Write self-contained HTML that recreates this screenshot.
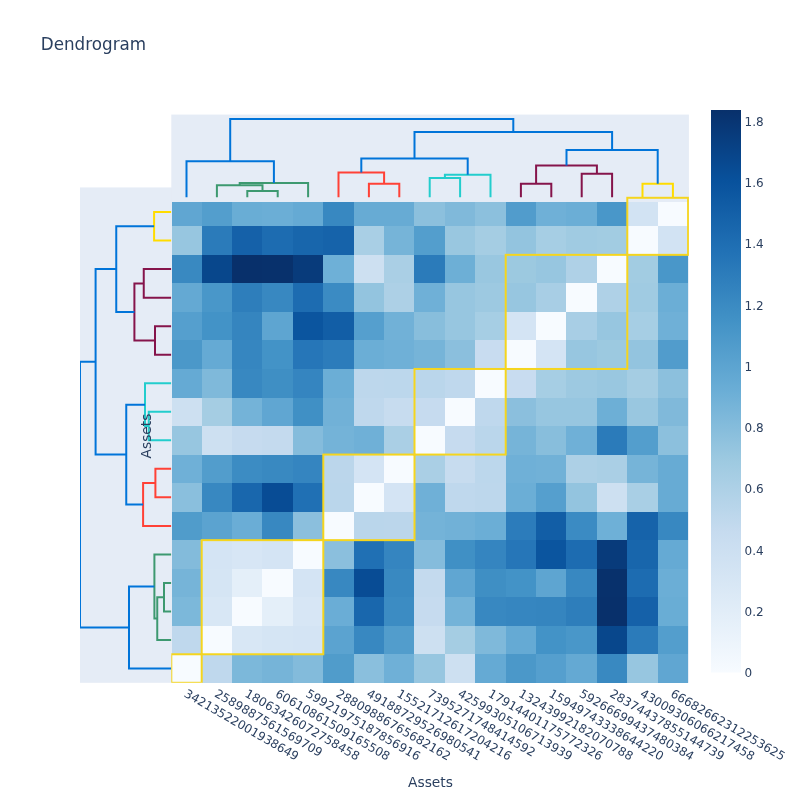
<!DOCTYPE html>
<html><head><meta charset="utf-8"><title>Dendrogram</title>
<style>html,body{margin:0;padding:0;background:#fff;}svg{display:block;}text{font-family:"DejaVu Sans","Liberation Sans",sans-serif;fill:#2a3f5f;}</style></head><body>
<svg width="800" height="800" viewBox="0 0 800 800">
<rect width="800" height="800" fill="#fff"/>
<rect x="80.00" y="187.42" width="608.90" height="495.38" fill="#E5ECF6"/>
<rect x="171.30" y="114.57" width="517.60" height="87.42" fill="#E5ECF6"/>
<g shape-rendering="crispEdges">
<rect x="172" y="202" width="30" height="24" fill="rgb(96,166,210)"/>
<rect x="202" y="202" width="30" height="24" fill="rgb(83,158,205)"/>
<rect x="232" y="202" width="30" height="24" fill="rgb(105,173,213)"/>
<rect x="262" y="202" width="31" height="24" fill="rgb(107,174,214)"/>
<rect x="293" y="202" width="30" height="24" fill="rgb(101,170,212)"/>
<rect x="323" y="202" width="31" height="24" fill="rgb(56,136,193)"/>
<rect x="354" y="202" width="30" height="24" fill="rgb(103,171,212)"/>
<rect x="384" y="202" width="30" height="24" fill="rgb(103,171,212)"/>
<rect x="414" y="202" width="31" height="24" fill="rgb(140,192,221)"/>
<rect x="445" y="202" width="30" height="24" fill="rgb(128,185,218)"/>
<rect x="475" y="202" width="31" height="24" fill="rgb(140,192,221)"/>
<rect x="506" y="202" width="30" height="24" fill="rgb(81,156,204)"/>
<rect x="536" y="202" width="30" height="24" fill="rgb(111,176,215)"/>
<rect x="566" y="202" width="31" height="24" fill="rgb(107,174,214)"/>
<rect x="597" y="202" width="30" height="24" fill="rgb(73,151,201)"/>
<rect x="627" y="202" width="31" height="24" fill="rgb(210,227,243)"/>
<rect x="658" y="202" width="30" height="24" fill="rgb(247,251,255)"/>
<rect x="172" y="226" width="30" height="29" fill="rgb(151,198,224)"/>
<rect x="202" y="226" width="30" height="29" fill="rgb(43,123,186)"/>
<rect x="232" y="226" width="30" height="29" fill="rgb(21,97,169)"/>
<rect x="262" y="226" width="31" height="29" fill="rgb(29,108,177)"/>
<rect x="293" y="226" width="30" height="29" fill="rgb(24,102,172)"/>
<rect x="323" y="226" width="31" height="29" fill="rgb(22,99,170)"/>
<rect x="354" y="226" width="30" height="29" fill="rgb(169,207,229)"/>
<rect x="384" y="226" width="30" height="29" fill="rgb(118,180,216)"/>
<rect x="414" y="226" width="31" height="29" fill="rgb(83,158,205)"/>
<rect x="445" y="226" width="30" height="29" fill="rgb(153,199,224)"/>
<rect x="475" y="226" width="31" height="29" fill="rgb(165,205,227)"/>
<rect x="506" y="226" width="30" height="29" fill="rgb(147,196,223)"/>
<rect x="536" y="226" width="30" height="29" fill="rgb(166,206,228)"/>
<rect x="566" y="226" width="31" height="29" fill="rgb(160,203,226)"/>
<rect x="597" y="226" width="30" height="29" fill="rgb(162,204,226)"/>
<rect x="627" y="226" width="31" height="29" fill="rgb(247,251,255)"/>
<rect x="658" y="226" width="30" height="29" fill="rgb(210,227,243)"/>
<rect x="172" y="255" width="30" height="28" fill="rgb(57,137,193)"/>
<rect x="202" y="255" width="30" height="28" fill="rgb(8,71,140)"/>
<rect x="232" y="255" width="30" height="28" fill="rgb(8,48,107)"/>
<rect x="262" y="255" width="31" height="28" fill="rgb(8,49,108)"/>
<rect x="293" y="255" width="30" height="28" fill="rgb(8,59,123)"/>
<rect x="323" y="255" width="31" height="28" fill="rgb(110,176,215)"/>
<rect x="354" y="255" width="30" height="28" fill="rgb(205,224,241)"/>
<rect x="384" y="255" width="30" height="28" fill="rgb(170,207,229)"/>
<rect x="414" y="255" width="31" height="28" fill="rgb(43,123,186)"/>
<rect x="445" y="255" width="30" height="28" fill="rgb(109,175,214)"/>
<rect x="475" y="255" width="31" height="28" fill="rgb(153,199,224)"/>
<rect x="506" y="255" width="30" height="28" fill="rgb(156,201,224)"/>
<rect x="536" y="255" width="30" height="28" fill="rgb(151,198,224)"/>
<rect x="566" y="255" width="31" height="28" fill="rgb(175,209,231)"/>
<rect x="597" y="255" width="30" height="28" fill="rgb(247,251,255)"/>
<rect x="627" y="255" width="31" height="28" fill="rgb(162,204,226)"/>
<rect x="658" y="255" width="30" height="28" fill="rgb(73,151,201)"/>
<rect x="172" y="283" width="30" height="29" fill="rgb(100,169,211)"/>
<rect x="202" y="283" width="30" height="29" fill="rgb(73,151,201)"/>
<rect x="232" y="283" width="30" height="29" fill="rgb(46,126,187)"/>
<rect x="262" y="283" width="31" height="29" fill="rgb(56,136,193)"/>
<rect x="293" y="283" width="30" height="29" fill="rgb(29,108,177)"/>
<rect x="323" y="283" width="31" height="29" fill="rgb(59,139,195)"/>
<rect x="354" y="283" width="30" height="29" fill="rgb(147,196,223)"/>
<rect x="384" y="283" width="30" height="29" fill="rgb(173,208,230)"/>
<rect x="414" y="283" width="31" height="29" fill="rgb(111,176,215)"/>
<rect x="445" y="283" width="30" height="29" fill="rgb(151,198,224)"/>
<rect x="475" y="283" width="31" height="29" fill="rgb(157,201,225)"/>
<rect x="506" y="283" width="30" height="29" fill="rgb(151,198,224)"/>
<rect x="536" y="283" width="30" height="29" fill="rgb(168,206,229)"/>
<rect x="566" y="283" width="31" height="29" fill="rgb(247,251,255)"/>
<rect x="597" y="283" width="30" height="29" fill="rgb(175,209,231)"/>
<rect x="627" y="283" width="31" height="29" fill="rgb(160,203,226)"/>
<rect x="658" y="283" width="30" height="29" fill="rgb(107,174,214)"/>
<rect x="172" y="312" width="30" height="28" fill="rgb(85,159,206)"/>
<rect x="202" y="312" width="30" height="28" fill="rgb(67,147,199)"/>
<rect x="232" y="312" width="30" height="28" fill="rgb(53,133,191)"/>
<rect x="262" y="312" width="31" height="28" fill="rgb(94,165,209)"/>
<rect x="293" y="312" width="30" height="28" fill="rgb(11,85,159)"/>
<rect x="323" y="312" width="31" height="28" fill="rgb(18,94,166)"/>
<rect x="354" y="312" width="30" height="28" fill="rgb(85,159,206)"/>
<rect x="384" y="312" width="30" height="28" fill="rgb(113,177,215)"/>
<rect x="414" y="312" width="31" height="28" fill="rgb(136,190,220)"/>
<rect x="445" y="312" width="30" height="28" fill="rgb(151,198,224)"/>
<rect x="475" y="312" width="31" height="28" fill="rgb(166,206,228)"/>
<rect x="506" y="312" width="30" height="28" fill="rgb(212,228,244)"/>
<rect x="536" y="312" width="30" height="28" fill="rgb(247,251,255)"/>
<rect x="566" y="312" width="31" height="28" fill="rgb(168,206,229)"/>
<rect x="597" y="312" width="30" height="28" fill="rgb(151,198,224)"/>
<rect x="627" y="312" width="31" height="28" fill="rgb(166,206,228)"/>
<rect x="658" y="312" width="30" height="28" fill="rgb(111,176,215)"/>
<rect x="172" y="340" width="30" height="29" fill="rgb(75,152,201)"/>
<rect x="202" y="340" width="30" height="29" fill="rgb(101,170,212)"/>
<rect x="232" y="340" width="30" height="29" fill="rgb(54,134,192)"/>
<rect x="262" y="340" width="31" height="29" fill="rgb(67,147,199)"/>
<rect x="293" y="340" width="30" height="29" fill="rgb(38,118,184)"/>
<rect x="323" y="340" width="31" height="29" fill="rgb(44,124,187)"/>
<rect x="354" y="340" width="30" height="29" fill="rgb(107,174,214)"/>
<rect x="384" y="340" width="30" height="29" fill="rgb(111,176,215)"/>
<rect x="414" y="340" width="31" height="29" fill="rgb(118,180,216)"/>
<rect x="445" y="340" width="30" height="29" fill="rgb(139,191,221)"/>
<rect x="475" y="340" width="31" height="29" fill="rgb(200,220,240)"/>
<rect x="506" y="340" width="30" height="29" fill="rgb(247,251,255)"/>
<rect x="536" y="340" width="30" height="29" fill="rgb(212,228,244)"/>
<rect x="566" y="340" width="31" height="29" fill="rgb(151,198,224)"/>
<rect x="597" y="340" width="30" height="29" fill="rgb(156,201,224)"/>
<rect x="627" y="340" width="31" height="29" fill="rgb(147,196,223)"/>
<rect x="658" y="340" width="30" height="29" fill="rgb(81,156,204)"/>
<rect x="172" y="369" width="30" height="29" fill="rgb(101,170,212)"/>
<rect x="202" y="369" width="30" height="29" fill="rgb(127,185,218)"/>
<rect x="232" y="369" width="30" height="29" fill="rgb(56,136,193)"/>
<rect x="262" y="369" width="31" height="29" fill="rgb(63,143,196)"/>
<rect x="293" y="369" width="30" height="29" fill="rgb(53,133,192)"/>
<rect x="323" y="369" width="31" height="29" fill="rgb(107,174,214)"/>
<rect x="354" y="369" width="30" height="29" fill="rgb(189,215,236)"/>
<rect x="384" y="369" width="30" height="29" fill="rgb(188,215,236)"/>
<rect x="414" y="369" width="31" height="29" fill="rgb(186,214,235)"/>
<rect x="445" y="369" width="30" height="29" fill="rgb(191,216,237)"/>
<rect x="475" y="369" width="31" height="29" fill="rgb(247,251,255)"/>
<rect x="506" y="369" width="30" height="29" fill="rgb(200,220,240)"/>
<rect x="536" y="369" width="30" height="29" fill="rgb(166,206,228)"/>
<rect x="566" y="369" width="31" height="29" fill="rgb(157,201,225)"/>
<rect x="597" y="369" width="30" height="29" fill="rgb(153,199,224)"/>
<rect x="627" y="369" width="31" height="29" fill="rgb(165,205,227)"/>
<rect x="658" y="369" width="30" height="29" fill="rgb(140,192,221)"/>
<rect x="172" y="398" width="30" height="28" fill="rgb(205,224,241)"/>
<rect x="202" y="398" width="30" height="28" fill="rgb(165,205,227)"/>
<rect x="232" y="398" width="30" height="28" fill="rgb(116,179,216)"/>
<rect x="262" y="398" width="31" height="28" fill="rgb(96,166,210)"/>
<rect x="293" y="398" width="30" height="28" fill="rgb(64,144,197)"/>
<rect x="323" y="398" width="31" height="28" fill="rgb(113,177,215)"/>
<rect x="354" y="398" width="30" height="28" fill="rgb(191,216,237)"/>
<rect x="384" y="398" width="30" height="28" fill="rgb(199,220,239)"/>
<rect x="414" y="398" width="31" height="28" fill="rgb(198,219,239)"/>
<rect x="445" y="398" width="30" height="28" fill="rgb(247,251,255)"/>
<rect x="475" y="398" width="31" height="28" fill="rgb(191,216,237)"/>
<rect x="506" y="398" width="30" height="28" fill="rgb(139,191,221)"/>
<rect x="536" y="398" width="30" height="28" fill="rgb(151,198,224)"/>
<rect x="566" y="398" width="31" height="28" fill="rgb(151,198,224)"/>
<rect x="597" y="398" width="30" height="28" fill="rgb(109,175,214)"/>
<rect x="627" y="398" width="31" height="28" fill="rgb(153,199,224)"/>
<rect x="658" y="398" width="30" height="28" fill="rgb(128,185,218)"/>
<rect x="172" y="426" width="30" height="29" fill="rgb(151,198,224)"/>
<rect x="202" y="426" width="30" height="29" fill="rgb(205,224,241)"/>
<rect x="232" y="426" width="30" height="29" fill="rgb(198,219,239)"/>
<rect x="262" y="426" width="31" height="29" fill="rgb(196,218,238)"/>
<rect x="293" y="426" width="30" height="29" fill="rgb(133,188,220)"/>
<rect x="323" y="426" width="31" height="29" fill="rgb(116,179,216)"/>
<rect x="354" y="426" width="30" height="29" fill="rgb(111,176,215)"/>
<rect x="384" y="426" width="30" height="29" fill="rgb(170,207,229)"/>
<rect x="414" y="426" width="31" height="29" fill="rgb(247,251,255)"/>
<rect x="445" y="426" width="30" height="29" fill="rgb(198,219,239)"/>
<rect x="475" y="426" width="31" height="29" fill="rgb(186,214,235)"/>
<rect x="506" y="426" width="30" height="29" fill="rgb(118,180,216)"/>
<rect x="536" y="426" width="30" height="29" fill="rgb(136,190,220)"/>
<rect x="566" y="426" width="31" height="29" fill="rgb(111,176,215)"/>
<rect x="597" y="426" width="30" height="29" fill="rgb(43,123,186)"/>
<rect x="627" y="426" width="31" height="29" fill="rgb(83,158,205)"/>
<rect x="658" y="426" width="30" height="29" fill="rgb(140,192,221)"/>
<rect x="172" y="455" width="30" height="28" fill="rgb(111,176,215)"/>
<rect x="202" y="455" width="30" height="28" fill="rgb(82,157,204)"/>
<rect x="232" y="455" width="30" height="28" fill="rgb(60,140,195)"/>
<rect x="262" y="455" width="31" height="28" fill="rgb(57,137,193)"/>
<rect x="293" y="455" width="30" height="28" fill="rgb(53,133,192)"/>
<rect x="323" y="455" width="31" height="28" fill="rgb(187,214,235)"/>
<rect x="354" y="455" width="30" height="28" fill="rgb(212,228,244)"/>
<rect x="384" y="455" width="30" height="28" fill="rgb(247,251,255)"/>
<rect x="414" y="455" width="31" height="28" fill="rgb(170,207,229)"/>
<rect x="445" y="455" width="30" height="28" fill="rgb(199,220,239)"/>
<rect x="475" y="455" width="31" height="28" fill="rgb(188,215,236)"/>
<rect x="506" y="455" width="30" height="28" fill="rgb(111,176,215)"/>
<rect x="536" y="455" width="30" height="28" fill="rgb(113,177,215)"/>
<rect x="566" y="455" width="31" height="28" fill="rgb(173,208,230)"/>
<rect x="597" y="455" width="30" height="28" fill="rgb(170,207,229)"/>
<rect x="627" y="455" width="31" height="28" fill="rgb(118,180,216)"/>
<rect x="658" y="455" width="30" height="28" fill="rgb(103,171,212)"/>
<rect x="172" y="483" width="30" height="29" fill="rgb(138,191,221)"/>
<rect x="202" y="483" width="30" height="29" fill="rgb(56,136,193)"/>
<rect x="232" y="483" width="30" height="29" fill="rgb(25,103,173)"/>
<rect x="262" y="483" width="31" height="29" fill="rgb(8,76,149)"/>
<rect x="293" y="483" width="30" height="29" fill="rgb(32,112,180)"/>
<rect x="323" y="483" width="31" height="29" fill="rgb(186,214,235)"/>
<rect x="354" y="483" width="30" height="29" fill="rgb(247,251,255)"/>
<rect x="384" y="483" width="30" height="29" fill="rgb(212,228,244)"/>
<rect x="414" y="483" width="31" height="29" fill="rgb(111,176,215)"/>
<rect x="445" y="483" width="30" height="29" fill="rgb(191,216,237)"/>
<rect x="475" y="483" width="31" height="29" fill="rgb(189,215,236)"/>
<rect x="506" y="483" width="30" height="29" fill="rgb(107,174,214)"/>
<rect x="536" y="483" width="30" height="29" fill="rgb(85,159,206)"/>
<rect x="566" y="483" width="31" height="29" fill="rgb(147,196,223)"/>
<rect x="597" y="483" width="30" height="29" fill="rgb(205,224,241)"/>
<rect x="627" y="483" width="31" height="29" fill="rgb(169,207,229)"/>
<rect x="658" y="483" width="30" height="29" fill="rgb(103,171,212)"/>
<rect x="172" y="512" width="30" height="28" fill="rgb(80,156,203)"/>
<rect x="202" y="512" width="30" height="28" fill="rgb(91,163,208)"/>
<rect x="232" y="512" width="30" height="28" fill="rgb(106,173,214)"/>
<rect x="262" y="512" width="31" height="28" fill="rgb(56,136,193)"/>
<rect x="293" y="512" width="30" height="28" fill="rgb(139,191,221)"/>
<rect x="323" y="512" width="31" height="28" fill="rgb(247,251,255)"/>
<rect x="354" y="512" width="30" height="28" fill="rgb(186,214,235)"/>
<rect x="384" y="512" width="30" height="28" fill="rgb(187,214,235)"/>
<rect x="414" y="512" width="31" height="28" fill="rgb(116,179,216)"/>
<rect x="445" y="512" width="30" height="28" fill="rgb(113,177,215)"/>
<rect x="475" y="512" width="31" height="28" fill="rgb(107,174,214)"/>
<rect x="506" y="512" width="30" height="28" fill="rgb(44,124,187)"/>
<rect x="536" y="512" width="30" height="28" fill="rgb(18,94,166)"/>
<rect x="566" y="512" width="31" height="28" fill="rgb(59,139,195)"/>
<rect x="597" y="512" width="30" height="28" fill="rgb(110,176,215)"/>
<rect x="627" y="512" width="31" height="28" fill="rgb(22,99,170)"/>
<rect x="658" y="512" width="30" height="28" fill="rgb(56,136,193)"/>
<rect x="172" y="540" width="30" height="29" fill="rgb(131,187,219)"/>
<rect x="202" y="540" width="30" height="29" fill="rgb(212,228,244)"/>
<rect x="232" y="540" width="30" height="29" fill="rgb(215,230,245)"/>
<rect x="262" y="540" width="31" height="29" fill="rgb(212,228,244)"/>
<rect x="293" y="540" width="30" height="29" fill="rgb(247,251,255)"/>
<rect x="323" y="540" width="31" height="29" fill="rgb(139,191,221)"/>
<rect x="354" y="540" width="30" height="29" fill="rgb(32,112,180)"/>
<rect x="384" y="540" width="30" height="29" fill="rgb(53,133,192)"/>
<rect x="414" y="540" width="31" height="29" fill="rgb(133,188,220)"/>
<rect x="445" y="540" width="30" height="29" fill="rgb(64,144,197)"/>
<rect x="475" y="540" width="31" height="29" fill="rgb(53,133,192)"/>
<rect x="506" y="540" width="30" height="29" fill="rgb(38,118,184)"/>
<rect x="536" y="540" width="30" height="29" fill="rgb(11,85,159)"/>
<rect x="566" y="540" width="31" height="29" fill="rgb(29,108,177)"/>
<rect x="597" y="540" width="30" height="29" fill="rgb(8,59,123)"/>
<rect x="627" y="540" width="31" height="29" fill="rgb(24,102,172)"/>
<rect x="658" y="540" width="30" height="29" fill="rgb(101,170,212)"/>
<rect x="172" y="569" width="30" height="28" fill="rgb(118,180,216)"/>
<rect x="202" y="569" width="30" height="28" fill="rgb(213,229,244)"/>
<rect x="232" y="569" width="30" height="28" fill="rgb(228,239,249)"/>
<rect x="262" y="569" width="31" height="28" fill="rgb(247,251,255)"/>
<rect x="293" y="569" width="30" height="28" fill="rgb(212,228,244)"/>
<rect x="323" y="569" width="31" height="28" fill="rgb(56,136,193)"/>
<rect x="354" y="569" width="30" height="28" fill="rgb(8,76,149)"/>
<rect x="384" y="569" width="30" height="28" fill="rgb(57,137,193)"/>
<rect x="414" y="569" width="31" height="28" fill="rgb(196,218,238)"/>
<rect x="445" y="569" width="30" height="28" fill="rgb(96,166,210)"/>
<rect x="475" y="569" width="31" height="28" fill="rgb(63,143,196)"/>
<rect x="506" y="569" width="30" height="28" fill="rgb(67,147,199)"/>
<rect x="536" y="569" width="30" height="28" fill="rgb(94,165,209)"/>
<rect x="566" y="569" width="31" height="28" fill="rgb(56,136,193)"/>
<rect x="597" y="569" width="30" height="28" fill="rgb(8,49,108)"/>
<rect x="627" y="569" width="31" height="28" fill="rgb(29,108,177)"/>
<rect x="658" y="569" width="30" height="28" fill="rgb(107,174,214)"/>
<rect x="172" y="597" width="30" height="29" fill="rgb(124,184,218)"/>
<rect x="202" y="597" width="30" height="29" fill="rgb(216,231,245)"/>
<rect x="232" y="597" width="30" height="29" fill="rgb(247,251,255)"/>
<rect x="262" y="597" width="31" height="29" fill="rgb(228,239,249)"/>
<rect x="293" y="597" width="30" height="29" fill="rgb(215,230,245)"/>
<rect x="323" y="597" width="31" height="29" fill="rgb(106,173,214)"/>
<rect x="354" y="597" width="30" height="29" fill="rgb(25,103,173)"/>
<rect x="384" y="597" width="30" height="29" fill="rgb(60,140,195)"/>
<rect x="414" y="597" width="31" height="29" fill="rgb(198,219,239)"/>
<rect x="445" y="597" width="30" height="29" fill="rgb(116,179,216)"/>
<rect x="475" y="597" width="31" height="29" fill="rgb(56,136,193)"/>
<rect x="506" y="597" width="30" height="29" fill="rgb(54,134,192)"/>
<rect x="536" y="597" width="30" height="29" fill="rgb(53,133,191)"/>
<rect x="566" y="597" width="31" height="29" fill="rgb(46,126,187)"/>
<rect x="597" y="597" width="30" height="29" fill="rgb(8,48,107)"/>
<rect x="627" y="597" width="31" height="29" fill="rgb(21,97,169)"/>
<rect x="658" y="597" width="30" height="29" fill="rgb(105,173,213)"/>
<rect x="172" y="626" width="30" height="28" fill="rgb(191,216,237)"/>
<rect x="202" y="626" width="30" height="28" fill="rgb(247,251,255)"/>
<rect x="232" y="626" width="30" height="28" fill="rgb(216,231,245)"/>
<rect x="262" y="626" width="31" height="28" fill="rgb(213,229,244)"/>
<rect x="293" y="626" width="30" height="28" fill="rgb(212,228,244)"/>
<rect x="323" y="626" width="31" height="28" fill="rgb(91,163,208)"/>
<rect x="354" y="626" width="30" height="28" fill="rgb(56,136,193)"/>
<rect x="384" y="626" width="30" height="28" fill="rgb(82,157,204)"/>
<rect x="414" y="626" width="31" height="28" fill="rgb(205,224,241)"/>
<rect x="445" y="626" width="30" height="28" fill="rgb(165,205,227)"/>
<rect x="475" y="626" width="31" height="28" fill="rgb(127,185,218)"/>
<rect x="506" y="626" width="30" height="28" fill="rgb(101,170,212)"/>
<rect x="536" y="626" width="30" height="28" fill="rgb(67,147,199)"/>
<rect x="566" y="626" width="31" height="28" fill="rgb(73,151,201)"/>
<rect x="597" y="626" width="30" height="28" fill="rgb(8,71,140)"/>
<rect x="627" y="626" width="31" height="28" fill="rgb(43,123,186)"/>
<rect x="658" y="626" width="30" height="28" fill="rgb(83,158,205)"/>
<rect x="172" y="654" width="30" height="29" fill="rgb(247,251,255)"/>
<rect x="202" y="654" width="30" height="29" fill="rgb(191,216,237)"/>
<rect x="232" y="654" width="30" height="29" fill="rgb(124,184,218)"/>
<rect x="262" y="654" width="31" height="29" fill="rgb(118,180,216)"/>
<rect x="293" y="654" width="30" height="29" fill="rgb(131,187,219)"/>
<rect x="323" y="654" width="31" height="29" fill="rgb(80,156,203)"/>
<rect x="354" y="654" width="30" height="29" fill="rgb(138,191,221)"/>
<rect x="384" y="654" width="30" height="29" fill="rgb(111,176,215)"/>
<rect x="414" y="654" width="31" height="29" fill="rgb(151,198,224)"/>
<rect x="445" y="654" width="30" height="29" fill="rgb(205,224,241)"/>
<rect x="475" y="654" width="31" height="29" fill="rgb(101,170,212)"/>
<rect x="506" y="654" width="30" height="29" fill="rgb(75,152,201)"/>
<rect x="536" y="654" width="30" height="29" fill="rgb(85,159,206)"/>
<rect x="566" y="654" width="31" height="29" fill="rgb(100,169,211)"/>
<rect x="597" y="654" width="30" height="29" fill="rgb(57,137,193)"/>
<rect x="627" y="654" width="31" height="29" fill="rgb(151,198,224)"/>
<rect x="658" y="654" width="30" height="29" fill="rgb(96,166,210)"/>
</g>
<g fill="none" stroke-width="2" stroke-linejoin="miter">
<path d="M247.30,197.30V191.00H277.70V197.30" stroke="rgb(61,153,112)"/>
<path d="M216.90,197.30V185.30H262.50V191.00" stroke="rgb(61,153,112)"/>
<path d="M239.70,185.30V183.10H308.10V197.30" stroke="rgb(61,153,112)"/>
<path d="M186.50,197.30V161.30H273.90V183.10" stroke="rgb(0,116,217)"/>
<path d="M368.90,197.30V183.80H399.30V197.30" stroke="rgb(255,65,54)"/>
<path d="M338.50,197.30V172.50H384.10V183.80" stroke="rgb(255,65,54)"/>
<path d="M429.70,197.30V178.10H460.10V197.30" stroke="rgb(35,205,205)"/>
<path d="M444.90,178.10V174.80H490.50V197.30" stroke="rgb(35,205,205)"/>
<path d="M361.30,172.50V158.60H467.70V174.80" stroke="rgb(0,116,217)"/>
<path d="M520.90,197.30V183.75H551.30V197.30" stroke="rgb(133,20,75)"/>
<path d="M581.70,197.30V173.75H612.10V197.30" stroke="rgb(133,20,75)"/>
<path d="M536.10,183.75V165.50H596.90V173.75" stroke="rgb(133,20,75)"/>
<path d="M642.50,197.30V183.75H672.90V197.30" stroke="rgb(255,220,0)"/>
<path d="M566.50,165.50V150.00H657.70V183.75" stroke="rgb(0,116,217)"/>
<path d="M414.50,158.60V132.00H612.10V150.00" stroke="rgb(0,116,217)"/>
<path d="M230.20,161.30V119.00H513.30V132.00" stroke="rgb(0,116,217)"/>
<clipPath id="sc"><rect x="80.00" y="187.42" width="91.30" height="495.38"/></clipPath>
<g clip-path="url(#sc)">
<path d="M171.30,611.47H164.00V582.94H171.30" stroke="rgb(61,153,112)"/>
<path d="M171.30,640.00H157.25V597.21H164.00" stroke="rgb(61,153,112)"/>
<path d="M157.25,618.61H154.40V554.41H171.30" stroke="rgb(61,153,112)"/>
<path d="M171.30,668.53H129.00V586.51H154.40" stroke="rgb(0,116,217)"/>
<path d="M171.30,497.35H155.40V468.82H171.30" stroke="rgb(255,65,54)"/>
<path d="M171.30,525.88H143.10V483.09H155.40" stroke="rgb(255,65,54)"/>
<path d="M171.30,440.29H148.75V411.76H171.30" stroke="rgb(35,205,205)"/>
<path d="M148.75,426.03H145.00V383.23H171.30" stroke="rgb(35,205,205)"/>
<path d="M143.10,504.49H126.25V404.63H145.00" stroke="rgb(0,116,217)"/>
<path d="M171.30,354.70H155.00V326.17H171.30" stroke="rgb(133,20,75)"/>
<path d="M171.30,297.64H143.75V269.11H171.30" stroke="rgb(133,20,75)"/>
<path d="M155.00,340.44H134.40V283.38H143.75" stroke="rgb(133,20,75)"/>
<path d="M171.30,240.58H154.10V212.05H171.30" stroke="rgb(255,220,0)"/>
<path d="M134.40,311.91H116.25V226.32H154.10" stroke="rgb(0,116,217)"/>
<path d="M126.25,454.56H95.60V269.11H116.25" stroke="rgb(0,116,217)"/>
<path d="M129.00,627.52H80.00V361.84H95.60" stroke="rgb(0,116,217)"/>
</g>
</g>
<clipPath id="hc"><rect x="171.30" y="187.42" width="517.60" height="495.38"/></clipPath>
<g fill="none" stroke="rgb(245,213,30)" stroke-width="2" clip-path="url(#hc)">
<rect x="171.30" y="654.27" width="30.40" height="28.53"/>
<rect x="201.70" y="540.15" width="121.60" height="114.12"/>
<rect x="323.30" y="454.56" width="91.20" height="85.59"/>
<rect x="414.50" y="368.97" width="91.20" height="85.59"/>
<rect x="505.70" y="254.85" width="121.60" height="114.12"/>
<rect x="627.30" y="197.79" width="60.80" height="57.06"/>
</g>
<defs><linearGradient id="cbg" x1="0" y1="1" x2="0" y2="0">
<stop offset="0.0%" stop-color="rgb(247,251,255)"/>
<stop offset="12.5%" stop-color="rgb(222,235,247)"/>
<stop offset="25.0%" stop-color="rgb(198,219,239)"/>
<stop offset="37.5%" stop-color="rgb(158,202,225)"/>
<stop offset="50.0%" stop-color="rgb(107,174,214)"/>
<stop offset="62.5%" stop-color="rgb(66,146,198)"/>
<stop offset="75.0%" stop-color="rgb(33,113,181)"/>
<stop offset="87.5%" stop-color="rgb(8,81,156)"/>
<stop offset="100.0%" stop-color="rgb(8,48,107)"/>
</linearGradient></defs>
<rect x="711" y="110" width="30" height="562.5" fill="url(#cbg)"/>
<text x="744.5" y="677.20" font-size="12">0</text>
<text x="744.5" y="615.95" font-size="12">0.2</text>
<text x="744.5" y="554.70" font-size="12">0.4</text>
<text x="744.5" y="493.45" font-size="12">0.6</text>
<text x="744.5" y="432.20" font-size="12">0.8</text>
<text x="744.5" y="370.94" font-size="12">1</text>
<text x="744.5" y="309.69" font-size="12">1.2</text>
<text x="744.5" y="248.44" font-size="12">1.4</text>
<text x="744.5" y="187.19" font-size="12">1.6</text>
<text x="744.5" y="125.94" font-size="12">1.8</text>
<text x="185.30" y="696.50" font-size="12" transform="rotate(30 185.30 692.50)">34213522001938649</text>
<text x="215.70" y="696.50" font-size="12" transform="rotate(30 215.70 692.50)">2589887561569709</text>
<text x="246.10" y="696.50" font-size="12" transform="rotate(30 246.10 692.50)">18063426072758458</text>
<text x="276.50" y="696.50" font-size="12" transform="rotate(30 276.50 692.50)">60610861509165508</text>
<text x="306.90" y="696.50" font-size="12" transform="rotate(30 306.90 692.50)">59921975187856916</text>
<text x="337.30" y="696.50" font-size="12" transform="rotate(30 337.30 692.50)">28809886765682162</text>
<text x="367.70" y="696.50" font-size="12" transform="rotate(30 367.70 692.50)">49188729526980541</text>
<text x="398.10" y="696.50" font-size="12" transform="rotate(30 398.10 692.50)">15521712617204216</text>
<text x="428.50" y="696.50" font-size="12" transform="rotate(30 428.50 692.50)">7395271748414592</text>
<text x="458.90" y="696.50" font-size="12" transform="rotate(30 458.90 692.50)">42599305106713939</text>
<text x="489.30" y="696.50" font-size="12" transform="rotate(30 489.30 692.50)">17914401175772326</text>
<text x="519.70" y="696.50" font-size="12" transform="rotate(30 519.70 692.50)">13243992182070788</text>
<text x="550.10" y="696.50" font-size="12" transform="rotate(30 550.10 692.50)">15949743338644220</text>
<text x="580.50" y="696.50" font-size="12" transform="rotate(30 580.50 692.50)">59266699437480384</text>
<text x="610.90" y="696.50" font-size="12" transform="rotate(30 610.90 692.50)">28374437855144739</text>
<text x="641.30" y="696.50" font-size="12" transform="rotate(30 641.30 692.50)">43009306066217458</text>
<text x="671.70" y="696.50" font-size="12" transform="rotate(30 671.70 692.50)">66682662312253625</text>
<text x="430.50" y="786.5" font-size="13.8" text-anchor="middle">Assets</text>
<text x="151" y="436" font-size="13.8" text-anchor="middle" transform="rotate(-90 151 436)">Assets</text>
<text x="40.8" y="50.3" font-size="16.75">Dendrogram</text>
</svg></body></html>
